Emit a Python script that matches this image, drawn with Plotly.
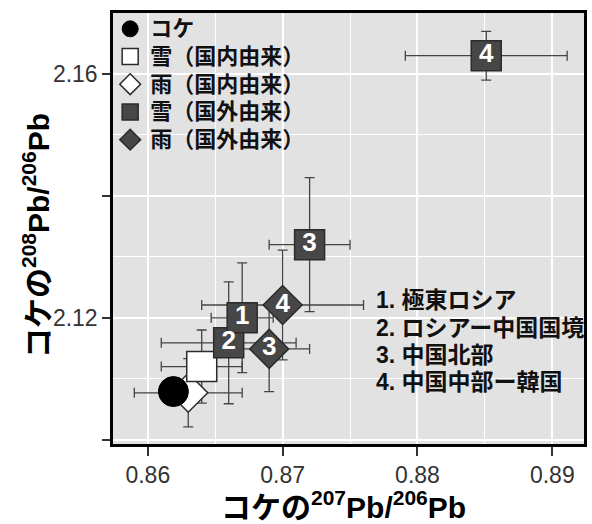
import plotly.graph_objects as go

# Moss (コケ)
moss_x = [0.8619]
moss_y = [2.1079]

# Snow, domestic origin
snow_dom_x = [0.8640]
snow_dom_y = [2.1120]
snow_dom_ex = [0.0030]
snow_dom_ey = [0.0060]

# Rain, domestic origin
rain_dom_x = [0.8630]
rain_dom_y = [2.1077]
rain_dom_ex = [0.0040]
rain_dom_ey = [0.0056]

# Snow, foreign origin (numbered by source region)
snow_for_labels = ["1", "2", "3", "4"]
snow_for_x = [0.8670, 0.8660, 0.8720, 0.8851]
snow_for_y = [2.1200, 2.1159, 2.1320, 2.1630]
snow_for_ex = [0.0023, 0.0050, 0.0030, 0.0060]
snow_for_ey = [0.0090, 0.0100, 0.0110, 0.0040]

# Rain, foreign origin
rain_for_labels = ["3", "4"]
rain_for_x = [0.8690, 0.8700]
rain_for_y = [2.1149, 2.1221]
rain_for_ex = [0.0030, 0.0060]
rain_for_ey = [0.0070, 0.0090]

region_notes = ["1. 極東ロシア", "2. ロシアー中国国境", "3. 中国北部", "4. 中国中部ー韓国"]

x_ticks = [0.86, 0.87, 0.88, 0.89]
y_ticks = [2.10, 2.12, 2.14, 2.16]
y_ticktext = ["", "2.12", "", "2.16"]

FONT = "Liberation Sans, Noto Sans CJK JP"
DARK = "#474747"
EDGE = "#2b2b2b"
BAR = "#444444"

fig = go.Figure()

# error bars first so every marker sits on top of them
def add_errors(xs, ys, exs, eys):
    fig.add_trace(go.Scatter(
        x=xs, y=ys, mode="markers", showlegend=False, hoverinfo="skip",
        marker=dict(size=1, opacity=0),
        error_x=dict(type="data", array=exs, color=BAR, thickness=1.3, width=5),
        error_y=dict(type="data", array=eys, color=BAR, thickness=1.3, width=5),
    ))

add_errors(rain_dom_x, rain_dom_y, rain_dom_ex, rain_dom_ey)
add_errors(snow_dom_x, snow_dom_y, snow_dom_ex, snow_dom_ey)
add_errors(snow_for_x, snow_for_y, snow_for_ex, snow_for_ey)
add_errors(rain_for_x, rain_for_y, rain_for_ex, rain_for_ey)


def legend_name(s):
    return f'<span style="font-size:22px">{s}</span>'


fig.add_trace(go.Scatter(
    x=rain_dom_x, y=rain_dom_y, mode="markers", name=legend_name("雨（国内由来）"), legendrank=3,
    marker=dict(symbol="diamond", size=30, color="white", line=dict(color=EDGE, width=1.5)),
))
fig.add_trace(go.Scatter(
    x=snow_dom_x, y=snow_dom_y, mode="markers", name=legend_name("雪（国内由来）"), legendrank=2,
    marker=dict(symbol="square", size=30, color="white", line=dict(color=EDGE, width=1.5)),
))
# drawn last-to-first so that square 1 overlaps square 2
fig.add_trace(go.Scatter(
    x=snow_for_x[::-1], y=snow_for_y[::-1], mode="markers", name=legend_name("雪（国外由来）"), legendrank=4,
    marker=dict(symbol="square", size=30, color=DARK, line=dict(color=EDGE, width=1.5)),
))
fig.add_trace(go.Scatter(
    x=rain_for_x, y=rain_for_y, mode="markers", name=legend_name("雨（国外由来）"), legendrank=5,
    marker=dict(symbol="diamond", size=30, color=DARK, line=dict(color=EDGE, width=1.5)),
))
fig.add_trace(go.Scatter(
    x=moss_x, y=moss_y, mode="markers", name=legend_name("コケ"), legendrank=1,
    marker=dict(symbol="circle", size=30, color="black", line=dict(color="black", width=1)),
))

# region numbers inside the foreign-origin markers
fig.add_trace(go.Scatter(
    x=snow_for_x + rain_for_x, y=snow_for_y + rain_for_y,
    text=snow_for_labels + rain_for_labels, mode="text", showlegend=False, hoverinfo="skip",
    textposition="middle center",
    textfont=dict(family="Liberation Sans", size=26, color="white", weight="bold"),
))

# region key
note_y = [0.334, 0.270, 0.207, 0.145]
for txt, yy in zip(region_notes, note_y):
    fig.add_annotation(
        x=0.555, y=yy, xref="paper", yref="paper", text=txt, showarrow=False,
        xanchor="left", yanchor="middle",
        font=dict(family=FONT, size=23, color="#111111", weight="bold"),
    )

# axis titles
fig.add_annotation(
    x=0.4895, y=-0.141, xref="paper", yref="paper", showarrow=False,
    text="コケの<sup>207</sup>Pb/<sup>206</sup>Pb", xanchor="center", yanchor="middle",
    font=dict(family=FONT, size=30, color="black", weight="bold"),
)
fig.add_annotation(
    x=-0.163, y=0.483, xref="paper", yref="paper", showarrow=False, textangle=-90,
    text="コケの<sup>208</sup>Pb/<sup>206</sup>Pb", xanchor="center", yanchor="middle",
    font=dict(family=FONT, size=30, color="black", weight="bold"),
)

fig.update_layout(
    width=592, height=524,
    margin=dict(l=113, r=5, t=13, b=80),
    paper_bgcolor="white",
    plot_bgcolor="#e2e2e2",
    font=dict(family=FONT, color="#333333"),
    legend=dict(
        x=-0.006, y=1.007, xanchor="left", yanchor="top",
        bgcolor="rgba(0,0,0,0)", itemsizing="trace", tracegroupgap=0,
        font=dict(family=FONT, size=19, color="#111111", weight="bold"),
    ),
    xaxis=dict(
        range=[0.85742, 0.89235], tickvals=x_ticks, ticktext=[f"{v:.2f}" for v in x_ticks],
        showgrid=True, gridcolor="white", gridwidth=2,
        minor=dict(tickvals=[0.855, 0.865, 0.875, 0.885, 0.895], showgrid=True,
                   gridcolor="white", gridwidth=1, ticks=""),
        ticks="outside", ticklen=9, tickwidth=1.5, tickcolor="#333333",
        tickfont=dict(family="Liberation Sans", size=23, color="#333333"),
        showline=True, mirror=True, linecolor="black", linewidth=2.5,
        zeroline=False,
    ),
    yaxis=dict(
        range=[2.0993, 2.1700], tickvals=y_ticks, ticktext=y_ticktext,
        showgrid=True, gridcolor="white", gridwidth=2,
        minor=dict(tickvals=[2.11, 2.13, 2.15, 2.17], showgrid=True,
                   gridcolor="white", gridwidth=1, ticks=""),
        ticks="outside", ticklen=8, tickwidth=1.5, tickcolor="#333333",
        tickfont=dict(family="Liberation Sans", size=23, color="#333333"),
        showline=True, mirror=True, linecolor="black", linewidth=2.5,
        zeroline=False,
    ),
)

fig.write_html("out.html")
